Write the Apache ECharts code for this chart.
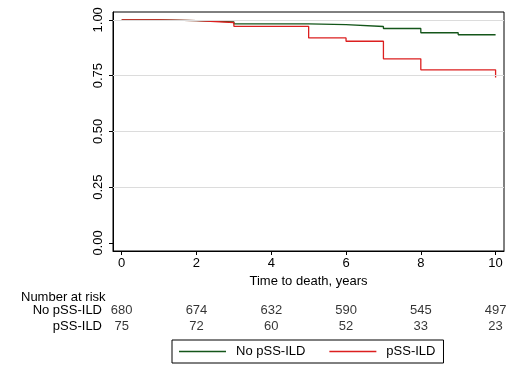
<!DOCTYPE html>
<html>
<head>
<meta charset="utf-8">
<script src="https://cdn.jsdelivr.net/npm/echarts@6/dist/echarts.min.js"></script>
<style>html,body{margin:0;padding:0;background:#fff}#c{width:516px;height:373px}</style>
</head>
<body>
<div id="c"></div>
<script>
// Kaplan-Meier step points (time in years, survival probability)
const noIldTimes = [0, 1, 2, 3, 5, 6, 7, 8, 9, 10];
const noIldSurv  = [1.000, 0.996, 0.991, 0.982, 0.978, 0.970, 0.961, 0.942, 0.933, 0.933];
const ildTimes   = [0, 1, 2, 3, 5, 6, 7, 8, 10, 10];
const ildSurv    = [1.000, 0.996, 0.988, 0.971, 0.919, 0.904, 0.825, 0.776, 0.776, 0.741];

// Number at risk table
const riskTimes  = [0, 2, 4, 6, 8, 10];
const riskNoIld  = [680, 674, 632, 590, 545, 497];
const riskIld    = [75, 72, 60, 52, 33, 23];

const xTicks = [0, 2, 4, 6, 8, 10];
const yTicks = [0, 0.25, 0.5, 0.75, 1];
const seriesNames = ['No pSS-ILD', 'pSS-ILD'];

const FONT = 'Liberation Sans, Arial, sans-serif';
const GREEN = '#14561a';
const RED = '#dc1f1f';

// expand survival estimates into a right-continuous step path
function stepPath(times, surv) {
  const out = [[times[0], surv[0]]];
  for (let i = 1; i < times.length; i++) {
    out.push([times[i], surv[i - 1]]);
    out.push([times[i], surv[i]]);
  }
  return out;
}
const riskRows = [
  ...riskTimes.map((t, i) => [t, seriesNames[0], riskNoIld[i]]),
  ...riskTimes.map((t, i) => [t, seriesNames[1], riskIld[i]])
];

const chart = echarts.init(document.getElementById('c'), null, {renderer: 'canvas'});
chart.setOption({
  animation: false,
  backgroundColor: '#fff',
  textStyle: {fontFamily: FONT},
  title: {
    text: 'Number at risk', left: 16, top: 286,
    textStyle: {fontSize: 13, fontWeight: 'normal', color: '#000', fontFamily: FONT}
  },
  legend: {
    data: [
      {name: seriesNames[0], itemStyle: {color: GREEN, borderWidth: 0}},
      {name: seriesNames[1], itemStyle: {color: RED, borderWidth: 0}}
    ],
    left: 172, top: 340,
    orient: 'horizontal', icon: 'rect',
    borderColor: '#000', borderWidth: 1, borderRadius: 0,
    padding: [5, 8, 5, 7],
    itemWidth: 47, itemHeight: 1.3, itemGap: 24,
    textStyle: {fontSize: 13, color: '#000', fontFamily: FONT, padding: [0, 0, 0, 5]}
  },
  grid: [
    {left: 113, right: 12, top: 12, bottom: 122, show: true, borderColor: '#000', borderWidth: 1, backgroundColor: '#fff'},
    {left: 113, right: 12, top: 302, height: 32}
  ],
  xAxis: [
    {
      type: 'value', gridIndex: 0, min: -0.233, max: 10.225,
      name: 'Time to death, years', nameLocation: 'middle', nameGap: 21,
      nameTextStyle: {fontSize: 13, color: '#000', fontFamily: FONT},
      axisLine: {show: true, onZero: false, lineStyle: {color: '#000', width: 1}},
      axisTick: {show: true, length: 4, customValues: xTicks, lineStyle: {color: '#000'}},
      axisLabel: {show: true, customValues: xTicks, margin: 6, fontSize: 13, color: '#000', fontFamily: FONT},
      splitLine: {show: false}
    },
    {
      type: 'value', gridIndex: 1, min: -0.233, max: 10.225, show: false
    }
  ],
  yAxis: [
    {
      type: 'value', gridIndex: 0, min: -0.036, max: 1.035,
      axisLine: {show: true, onZero: false, lineStyle: {color: '#000', width: 1}},
      axisTick: {show: true, length: 4, customValues: yTicks, lineStyle: {color: '#000'}},
      axisLabel: {show: true, customValues: yTicks, rotate: 90, margin: 8, fontSize: 13, color: '#000', fontFamily: FONT,
        formatter: v => v.toFixed(2)},
      splitLine: {show: false}
    },
    {
      type: 'category', gridIndex: 1, data: [seriesNames[1], seriesNames[0]],
      axisLine: {show: false}, axisTick: {show: false},
      axisLabel: {interval: 0, margin: 11, fontSize: 13, color: '#000', fontFamily: FONT}
    }
  ],
  series: [
    {
      name: seriesNames[0], type: 'line', xAxisIndex: 0, yAxisIndex: 0,
      data: stepPath(noIldTimes, noIldSurv), symbol: 'none', showSymbol: false,
      lineStyle: {color: GREEN, width: 1.3}, itemStyle: {color: GREEN},
      markLine: {
        silent: true, symbol: 'none', label: {show: false},
        lineStyle: {color: '#dcdcdc', width: 1, type: 'solid'},
        data: yTicks.filter(v => v > 0).map(v => ({yAxis: v}))
      },
      z: 3
    },
    {
      name: seriesNames[1], type: 'line', xAxisIndex: 0, yAxisIndex: 0,
      data: stepPath(ildTimes, ildSurv), symbol: 'none', showSymbol: false,
      lineStyle: {color: RED, width: 1.3}, itemStyle: {color: RED},
      z: 4
    },
    {
      type: 'scatter', xAxisIndex: 1, yAxisIndex: 1, data: riskRows,
      symbolSize: 1, itemStyle: {color: 'rgba(0,0,0,0)'}, silent: true,
      label: {show: true, position: 'inside', formatter: p => String(p.value[2]),
        fontSize: 13, color: '#000', fontFamily: FONT}
    }
  ]
});
</script>
</body>
</html>
